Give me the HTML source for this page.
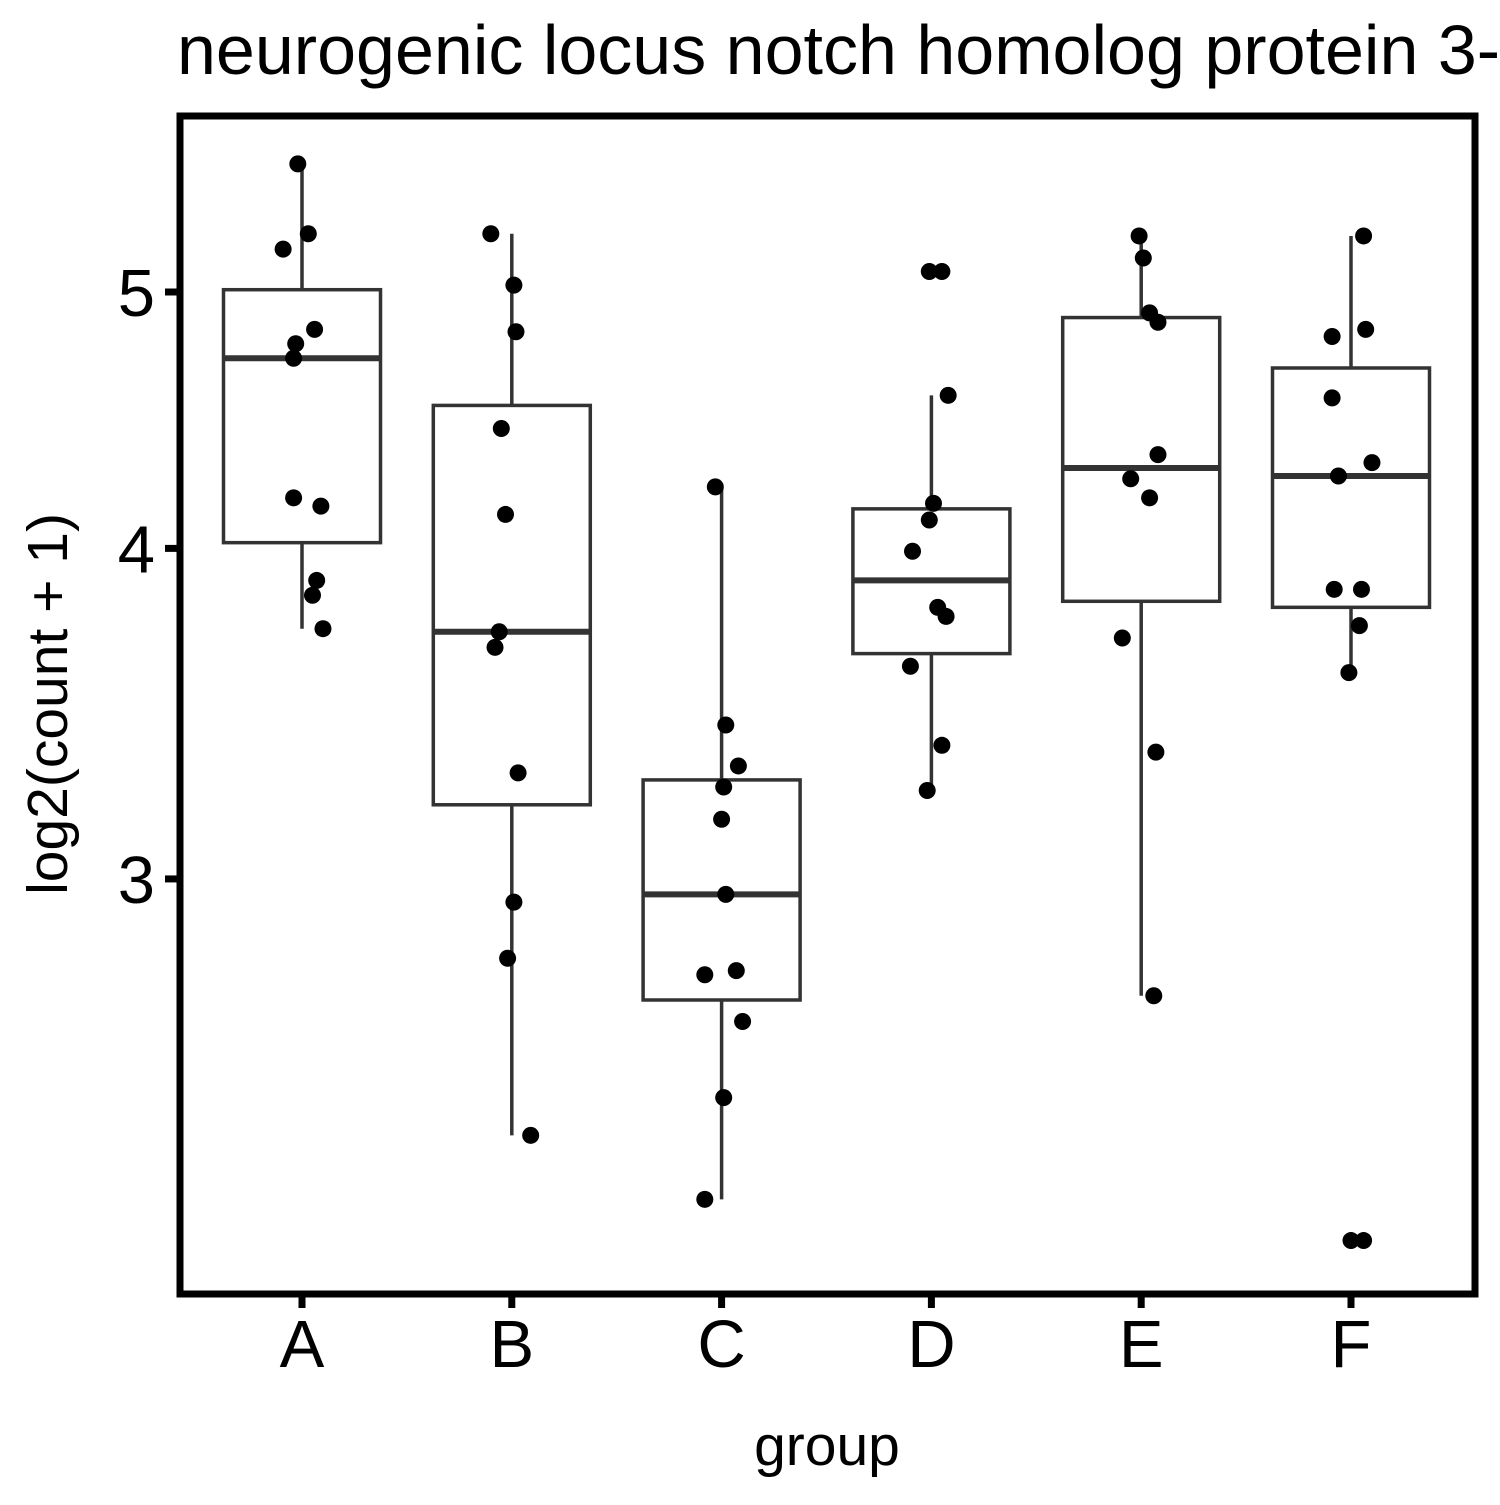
<!DOCTYPE html>
<html><head><meta charset="utf-8"><style>
html,body{margin:0;padding:0;background:#fff;}
svg text{font-family:"Liberation Sans",sans-serif;}
</style></head><body>
<svg id="chart" width="1500" height="1500" xmlns="http://www.w3.org/2000/svg">
<text x="177" y="74" font-size="70">neurogenic locus notch homolog protein 3-</text>
<text x="827" y="1465" font-size="57" text-anchor="middle">group</text>
<text transform="translate(67,704) rotate(-90)" font-size="57" text-anchor="middle">log2(count + 1)</text>
<g id="marks"></g>
<rect x="180" y="116" width="1295" height="1178" fill="none" stroke="#000" stroke-width="7"/>
</svg>
<script>
const categories = ["A","B","C","D","E","F"];
const q1 = [4.02,3.20,2.70,3.65,3.82,3.80];
const medians = [4.72,3.72,2.96,3.89,4.29,4.26];
const q3 = [5.01,4.53,3.27,4.14,4.89,4.68];
const whiskerLow = [3.73,2.40,2.27,3.24,2.71,3.59];
const whiskerHigh = [5.59,5.26,4.22,4.57,5.25,5.25];
const yTicks = [3,4,5];
const pointsA = [5.59,5.26,5.19,4.84,4.78,4.72,4.18,4.15,3.89,3.84,3.73];
const pointsB = [5.26,5.03,4.83,4.44,4.12,3.72,3.67,3.29,2.94,2.80,2.40];
const pointsC = [4.22,3.43,3.31,3.25,3.16,2.96,2.76,2.77,2.65,2.48,2.27];
const pointsD = [5.09,5.09,4.57,4.16,4.10,3.99,3.80,3.77,3.61,3.37,3.24];
const pointsE = [5.25,5.15,4.91,4.87,4.34,4.25,4.18,3.70,3.35,2.71];
const pointsF = [5.25,4.84,4.81,4.56,4.31,4.26,3.86,3.86,3.74,3.59,2.19,2.19];
const jitterA = [-0.02,0.03,-0.09,0.06,-0.03,-0.04,-0.04,0.09,0.07,0.05,0.10];
const jitterB = [-0.10,0.01,0.02,-0.05,-0.03,-0.06,-0.08,0.03,0.01,-0.02,0.09];
const jitterC = [-0.03,0.02,0.08,0.01,0.00,0.02,-0.08,0.07,0.10,0.01,-0.08];
const jitterD = [-0.01,0.05,0.08,0.01,-0.01,-0.09,0.03,0.07,-0.10,0.05,-0.02];
const jitterE = [-0.01,0.01,0.04,0.08,0.08,-0.05,0.04,-0.09,0.07,0.06];
const jitterF = [0.06,0.07,-0.09,-0.09,0.10,-0.06,-0.08,0.05,0.04,-0.01,0.00,0.06];
const allPoints = [pointsA,pointsB,pointsC,pointsD,pointsE,pointsF];
const allJitter = [jitterA,jitterB,jitterC,jitterD,jitterE,jitterF];

const NS = "http://www.w3.org/2000/svg";
const g = document.getElementById("marks");
function xScale(i){ return 302 + i*209.8; }
function yScale(v){ return 292 - 1149*(Math.log(v) - Math.log(5)); }
function mk(tag, attrs){ const e=document.createElementNS(NS,tag); for(const k in attrs) e.setAttribute(k,attrs[k]); g.appendChild(e); return e; }

yTicks.forEach(t=>{
  const y=yScale(t);
  const tk=mk("line",{x1:165,x2:180,y1:y,y2:y,stroke:"#000","stroke-width":7});
  
  
  const lb=mk("text",{x:155,y:y+24,"font-size":67,"text-anchor":"end"});
  lb.textContent=t;
  
  
});
const bw = 157;
categories.forEach((c,i)=>{
  const x=xScale(i);
  const tk=mk("line",{x1:x,x2:x,y1:1294,y2:1308,stroke:"#000","stroke-width":7});
  
  
  const lb=mk("text",{x:x,y:1367,"font-size":67,"text-anchor":"middle"});
  lb.textContent=c;
  
  
  const w1=mk("line",{x1:x,x2:x,y1:yScale(whiskerHigh[i]),y2:yScale(q3[i]),stroke:"#333","stroke-width":3.5});
  
  
  const w2=mk("line",{x1:x,x2:x,y1:yScale(q1[i]),y2:yScale(whiskerLow[i]),stroke:"#333","stroke-width":3.5});
  
  
  const r=mk("rect",{x:x-bw/2,y:yScale(q3[i]),width:bw,height:yScale(q1[i])-yScale(q3[i]),fill:"#fff",stroke:"#333","stroke-width":3.5});
  
  
  const m=mk("line",{x1:x-bw/2,x2:x+bw/2,y1:yScale(medians[i]),y2:yScale(medians[i]),stroke:"#333","stroke-width":6});
  
  
});
allPoints.forEach((pts,i)=>{
  pts.forEach((v,j)=>{
    const p=mk("circle",{cx:xScale(i+allJitter[i][j]),cy:yScale(v),r:8.5,fill:"#000"});
    
    
  });
});
</script>
</body></html>
